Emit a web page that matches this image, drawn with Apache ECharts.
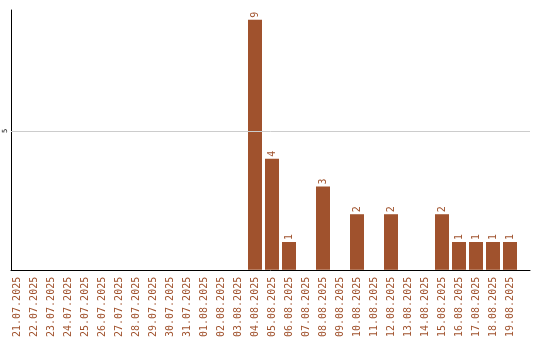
<!DOCTYPE html>
<html><head><meta charset="utf-8">
<script src="https://cdn.jsdelivr.net/npm/echarts@6/dist/echarts.min.js"></script>
<style>html,body{margin:0;padding:0;background:#fff}#c{width:540px;height:340px}</style>
</head><body><div id="c"></div>
<script>
const categories = ["21.07.2025","22.07.2025","23.07.2025","24.07.2025","25.07.2025","26.07.2025","27.07.2025","28.07.2025","29.07.2025","30.07.2025","31.07.2025","01.08.2025","02.08.2025","03.08.2025","04.08.2025","05.08.2025","06.08.2025","07.08.2025","08.08.2025","09.08.2025","10.08.2025","11.08.2025","12.08.2025","13.08.2025","14.08.2025","15.08.2025","16.08.2025","17.08.2025","18.08.2025","19.08.2025"];
const values = [0,0,0,0,0,0,0,0,0,0,0,0,0,0,9,4,1,0,3,0,2,0,2,0,0,2,1,1,1,1];
const yTicks = [5];

const brown = '#A0522D';
const yMax = 9.35;
const chart = echarts.init(document.getElementById('c'), null, {renderer:'canvas'});
chart.setOption({
  animation: false,
  grid: [
    {left: 8.5, width: 510, top: 10, bottom: 70},
    {left: 11, right: 10, top: 10, bottom: 70}
  ],
  xAxis: [
    {type:'category', gridIndex:0, data: categories, boundaryGap: true,
     axisLine:{show:false}, axisTick:{show:false},
     axisLabel:{rotate:90, interval:0, color:brown, fontFamily:'DejaVu Sans Mono', fontSize:10, margin:7}},
    {type:'value', gridIndex:1, min:0, max:1, axisLine:{show:true, lineStyle:{color:'#000', width:1}},
     axisTick:{show:false}, axisLabel:{show:false}, splitLine:{show:false}}
  ],
  yAxis: [
    {type:'value', gridIndex:0, min:0, max:yMax, show:false, splitLine:{show:false}},
    {type:'value', gridIndex:1, min:0, max:yMax, interval:5,
     axisLine:{show:true, lineStyle:{color:'#000', width:1}}, axisTick:{show:false},
     axisLabel:{rotate:90, color:'#000', fontFamily:'DejaVu Sans Mono', fontSize:7, margin:2,
       formatter: v => yTicks.includes(v) ? String(v) : ''},
     splitLine:{show:false}}
  ],
  series: [{
    type:'bar', xAxisIndex:0, yAxisIndex:0, barWidth:14,
    data: values.map(v => v === 0 ? null : v),
    itemStyle:{color:brown},
    label:{show:true, position:'top', rotate:90, align:'left', verticalAlign:'middle', distance:2,
      color:brown, fontFamily:'DejaVu Sans Mono', fontSize:10}
  }, {
    type:'line', xAxisIndex:1, yAxisIndex:1, data:[], silent:true,
    markLine:{silent:true, symbol:'none', label:{show:false},
      lineStyle:{color:'#ccc', width:1, type:'solid'},
      data: yTicks.map(t => ({yAxis:t}))}
  }]
});
</script></body></html>
